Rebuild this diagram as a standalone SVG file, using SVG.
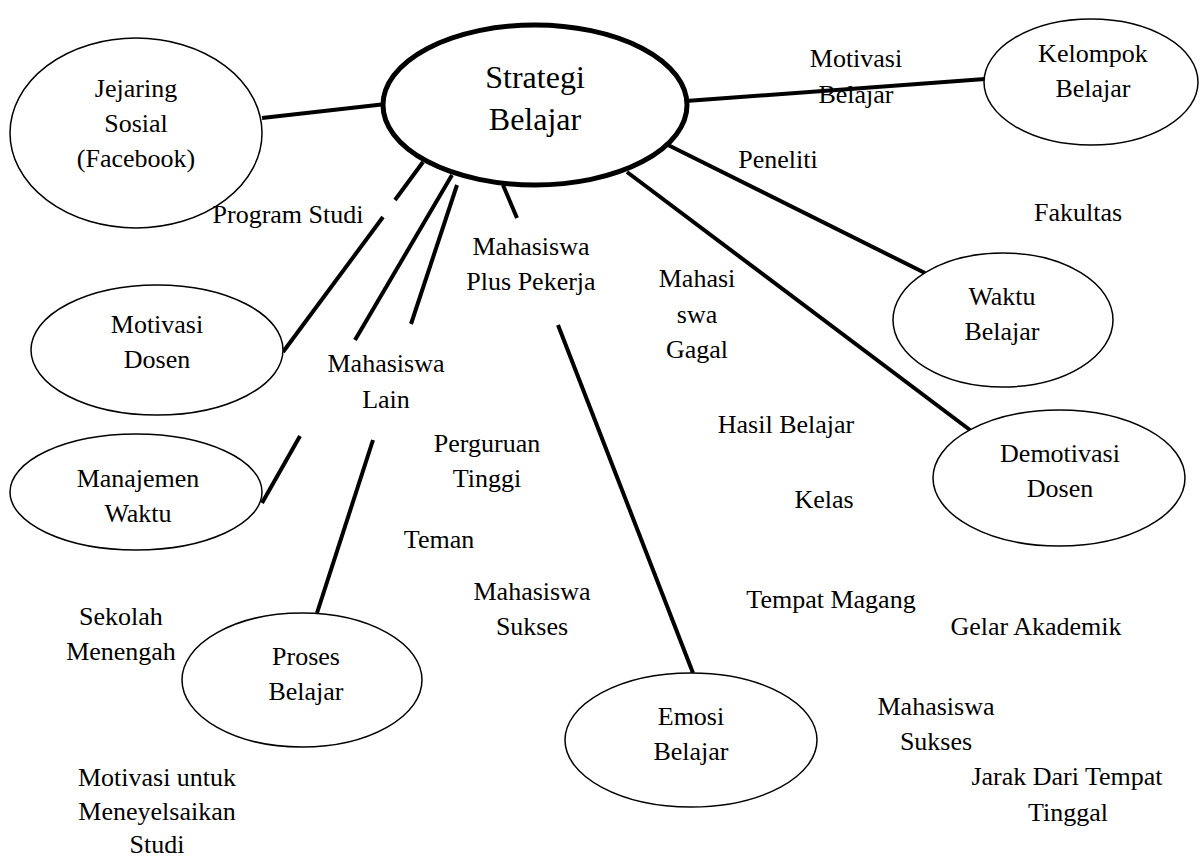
<svg xmlns="http://www.w3.org/2000/svg" width="1200" height="860" viewBox="0 0 1200 860">
<style>
text{font-family:"Liberation Serif","Times New Roman",serif;font-size:26px;fill:#000;text-anchor:middle}
.node{fill:#fff;stroke:#000;stroke-width:1.5}
.main{fill:#fff;stroke:#000;stroke-width:5}
.big{font-size:32px}
.conn line{stroke:#000;stroke-width:4;stroke-linecap:butt}
</style>
<rect width="1200" height="860" fill="#fff"/>
<g class="conn" id="connectors">
<line x1="262" y1="118" x2="386" y2="104"/>
<line x1="686" y1="101" x2="985" y2="79"/>
<line x1="668" y1="145" x2="925" y2="273"/>
<line x1="627" y1="172" x2="970" y2="430"/>
<line x1="283" y1="352" x2="383" y2="217"/>
<line x1="395" y1="200" x2="423" y2="162"/>
<line x1="452" y1="175" x2="355" y2="340"/>
<line x1="300" y1="436" x2="262" y2="503"/>
<line x1="457" y1="185" x2="411" y2="324"/>
<line x1="373" y1="440" x2="317" y2="613"/>
<line x1="503" y1="185" x2="517" y2="218"/>
<line x1="558" y1="325" x2="693" y2="673"/>
</g>
<g id="strategi-belajar">
<ellipse class="main" cx="535" cy="105" rx="152" ry="80"/>
<text class="big" x="535" y="88">Strategi</text>
<text class="big" x="535" y="130">Belajar</text>
</g>
<g id="jejaring-sosial">
<ellipse class="node" cx="136" cy="133" rx="126" ry="95"/>
<text x="136" y="97">Jejaring</text>
<text x="136" y="132">Sosial</text>
<text x="136" y="167">(Facebook)</text>
</g>
<g id="kelompok-belajar">
<ellipse class="node" cx="1091" cy="82" rx="107" ry="63"/>
<text x="1093" y="62">Kelompok</text>
<text x="1093" y="97">Belajar</text>
</g>
<g id="waktu-belajar">
<ellipse class="node" cx="1003" cy="320" rx="110" ry="67"/>
<text x="1002" y="305">Waktu</text>
<text x="1002" y="340">Belajar</text>
</g>
<g id="demotivasi-dosen">
<ellipse class="node" cx="1059" cy="478" rx="126" ry="68"/>
<text x="1060" y="462">Demotivasi</text>
<text x="1060" y="497">Dosen</text>
</g>
<g id="motivasi-dosen">
<ellipse class="node" cx="157" cy="350" rx="126" ry="65"/>
<text x="157" y="333">Motivasi</text>
<text x="157" y="368">Dosen</text>
</g>
<g id="manajemen-waktu">
<ellipse class="node" cx="136" cy="492" rx="126" ry="58"/>
<text x="138" y="487">Manajemen</text>
<text x="138" y="522">Waktu</text>
</g>
<g id="proses-belajar">
<ellipse class="node" cx="302" cy="680" rx="120" ry="67"/>
<text x="306" y="665">Proses</text>
<text x="306" y="700">Belajar</text>
</g>
<g id="emosi-belajar">
<ellipse class="node" cx="691" cy="740" rx="126" ry="67"/>
<text x="691" y="725">Emosi</text>
<text x="691" y="760">Belajar</text>
</g>
<g id="labels">
<text x="856" y="67">Motivasi</text>
<text x="856" y="103">Belajar</text>
<text x="778" y="168">Peneliti</text>
<text x="1078" y="221">Fakultas</text>
<text x="288" y="223">Program Studi</text>
<text x="531" y="255">Mahasiswa</text>
<text x="531" y="290">Plus Pekerja</text>
<text x="697" y="287">Mahasi</text>
<text x="697" y="323">swa</text>
<text x="697" y="358">Gagal</text>
<text x="386" y="372">Mahasiswa</text>
<text x="386" y="408">Lain</text>
<text x="487" y="452">Perguruan</text>
<text x="487" y="487">Tinggi</text>
<text x="786" y="433">Hasil Belajar</text>
<text x="824" y="508">Kelas</text>
<text x="439" y="548">Teman</text>
<text x="532" y="600">Mahasiswa</text>
<text x="532" y="635">Sukses</text>
<text x="831" y="608">Tempat Magang</text>
<text x="1036" y="635">Gelar Akademik</text>
<text x="121" y="625">Sekolah</text>
<text x="121" y="660">Menengah</text>
<text x="936" y="715">Mahasiswa</text>
<text x="936" y="750">Sukses</text>
<text x="1067" y="785">Jarak Dari Tempat</text>
<text x="1068" y="821">Tinggal</text>
<text x="157" y="786">Motivasi untuk</text>
<text x="157" y="820">Meneyelsaikan</text>
<text x="157" y="853">Studi</text>
</g>
</svg>
